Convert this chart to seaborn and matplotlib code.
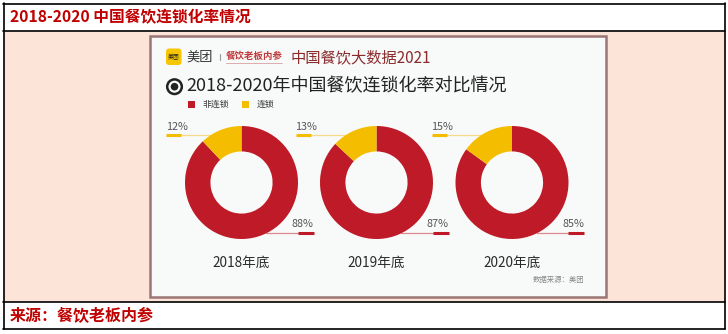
import matplotlib
matplotlib.use("Agg")
import matplotlib.pyplot as plt
from matplotlib.patches import Rectangle, FancyBboxPatch, Circle
import seaborn as sns

# ---- data ----
years = ["2018年底", "2019年底", "2020年底"]
non_chain = [88, 87, 85]
chain = [12, 13, 15]
series_names = ["非连锁", "连锁"]
page_title = "2018-2020 中国餐饮连锁化率情况"
source_note = "来源：餐饮老板内参"
chart_title = "2018-2020年中国餐饮连锁化率对比情况"
brand_title = "中国餐饮大数据2021"
data_source = "数据来源：美团"

sns.set_theme(style="white")
plt.rcParams["font.family"] = ["Noto Sans CJK SC", "DejaVu Sans"]

RED = "#be1a27"
YEL = "#f5bd00"
colors = [RED, YEL]

W, H = 728, 334
fig = plt.figure(figsize=(W / 100, H / 100), dpi=100)
fig.patch.set_facecolor("white")
ax = fig.add_axes([0, 0, 1, 1])
ax.set_xlim(0, W)
ax.set_ylim(H, 0)
ax.axis("off")

# page frame
ax.add_patch(Rectangle((3, 31), 722, 271, facecolor="#fde4d8", edgecolor="none", zorder=0))
for y in (3.5, 31, 302, 329):
    ax.plot([3, 725], [y, y], color="black", lw=1.2, zorder=3)
for x in (3.5, 724.5):
    ax.plot([x, x], [3, 329], color="black", lw=1.2, zorder=3)

ax.text(10, 17.5, page_title, color="#c00000", fontsize=11.3, fontweight="bold",
        ha="left", va="center")
ax.text(10, 316, source_note, color="#c00000", fontsize=11.5, fontweight="bold",
        ha="left", va="center")

# inner picture
ax.add_patch(Rectangle((149.5, 35.5), 456, 261, facecolor="#f8f9f9",
                       edgecolor="#9c7676", lw=1.8, zorder=1))

# brand header
ax.add_patch(FancyBboxPatch((166, 48.5), 15.5, 16.5, boxstyle="round,pad=0,rounding_size=3",
                            facecolor="#f7c600", edgecolor="none", zorder=2))
ax.text(173.8, 57, "美团", fontsize=4.2, color="#222", ha="center", va="center", zorder=3)
ax.text(186, 57.5, "美团", fontsize=9.5, color="#333", ha="left", va="center", zorder=3)
ax.plot([219.5, 219.5], [54, 60], color="#999", lw=0.8, zorder=3)
ax.text(225.5, 55.5, "餐饮老板内参", fontsize=6.8, color="#c0393b", ha="left", va="center",
        fontweight="bold", zorder=3)
ax.plot([226, 282], [62.5, 62.5], color="#d8a0a0", lw=0.6, zorder=3)
ax.text(291, 57.5, brand_title, fontsize=11.0, color="#8b2c2c", ha="left", va="center", zorder=3)

# chart title
ax.add_patch(Circle((174.5, 86.7), 7.3, facecolor="none", edgecolor="#222", lw=1.8, zorder=3))
ax.add_patch(Circle((174.5, 86.7), 3.8, facecolor="#222", edgecolor="none", zorder=3))
ax.text(186.5, 86.7, chart_title, fontsize=13.0, color="#222", ha="left", va="center", zorder=3)

# legend
for i, (name, col) in enumerate(zip(series_names, colors)):
    lx = 188 + i * 54
    ax.add_patch(Rectangle((lx, 101), 7.3, 7.3, facecolor=col, edgecolor="none", zorder=3))
    ax.text(lx + 15, 104.8, name, fontsize=6.4, color="#333", ha="left", va="center", zorder=3)

ax.text(584, 280, data_source, fontsize=5.3, color="#888", ha="right", va="center", zorder=3)

# donuts
centers = [241.5, 376.5, 512.0]
cy, R = 182.5, 56.5
label_dx = [-75.5, -81.0, -80.5]
for i, (yr, nc, c) in enumerate(zip(years, non_chain, chain)):
    cx = centers[i]
    dax = fig.add_axes([(cx - R) / W, 1 - (cy + R) / H, 2 * R / W, 2 * R / H])
    dax.pie([nc, c], colors=colors, startangle=90, counterclock=False, radius=1,
            wedgeprops=dict(width=0.45, edgecolor="none", linewidth=0))
    dax.set_xlim(-1, 1)
    dax.set_ylim(-1, 1)
    dax.set_aspect("equal")
    dax.axis("off")

    # top-left label (chain)
    ly = cy - 47.5
    edge_x = cx - (R ** 2 - 47.5 ** 2) ** 0.5
    x0 = cx + label_dx[i]
    ax.plot([x0 + 15, edge_x + 1], [ly, ly], color="#f6dc8a", lw=0.9, zorder=2)
    ax.plot([x0, x0 + 15], [ly, ly], color=YEL, lw=2.2, solid_capstyle="butt", zorder=2)
    ax.text(x0, ly - 8, f"{c}%", fontsize=7.8, color="#555", ha="left", va="center")

    # bottom-right label (non-chain)
    ry = cy + 50.2
    edge_x2 = cx + (R ** 2 - 50.2 ** 2) ** 0.5
    x1 = cx + 72.0
    ax.plot([edge_x2 - 1, x1 - 16], [ry, ry], color="#dc8a8f", lw=0.9, zorder=2)
    ax.plot([x1 - 16, x1], [ry, ry], color=RED, lw=2.2, solid_capstyle="butt", zorder=2)
    ax.text(x1, ry - 8.5, f"{nc}%", fontsize=7.8, color="#555", ha="right", va="center")

    ax.text(cx, 263, yr, fontsize=9.8, color="#2a2a2a", ha="center", va="center",
            fontweight="medium")

fig.savefig("out.png", dpi=100, facecolor=fig.get_facecolor())
